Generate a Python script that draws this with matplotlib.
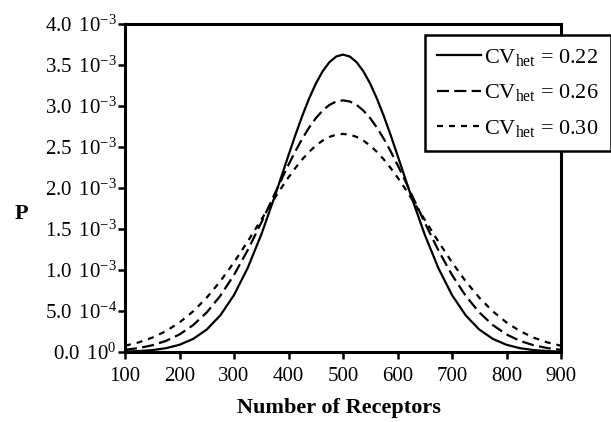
import matplotlib
matplotlib.use("Agg")
import matplotlib.pyplot as plt

plt.rcParams['font.family'] = ['Liberation Serif', 'DejaVu Serif']
plt.rcParams['mathtext.fontset'] = 'custom'
plt.rcParams['mathtext.rm'] = 'Liberation Serif'
plt.rcParams['mathtext.it'] = 'Liberation Serif:italic'
plt.rcParams['mathtext.bf'] = 'Liberation Serif:bold'

# Number of receptors (x) and probability readings for each curve
receptors = [100, 125, 150, 175, 200, 225, 250, 275, 300, 325, 350, 375,
             387.5, 400, 412.5, 425, 437.5, 450, 462.5, 475, 487.5, 500,
             512.5, 525, 537.5, 550, 562.5, 575, 587.5, 600, 612.5,
             625, 650, 675, 700, 725, 750, 775, 800, 825, 850, 875, 900]

half_022 = [4.9e-6, 1.09e-5, 2.30e-5, 4.61e-5, 8.80e-5, 1.594e-4, 2.741e-4, 4.477e-4,
            6.945e-4, 1.023e-3, 1.431e-3, 1.902e-3, 2.1498e-3, 2.399e-3, 2.6431e-3,
            2.875e-3, 3.0861e-3, 3.271e-3, 3.4219e-3, 3.534e-3, 3.6034e-3, 3.627e-3]
half_026 = [2.70e-5, 4.79e-5, 8.18e-5, 1.348e-4, 2.141e-4, 3.276e-4, 4.830e-4, 6.863e-4,
            9.397e-4, 1.240e-3, 1.577e-3, 1.933e-3, 2.1103e-3, 2.283e-3, 2.4468e-3,
            2.598e-3, 2.7339e-3, 2.850e-3, 2.9437e-3, 3.013e-3, 3.0547e-3, 3.069e-3]
half_030 = [7.60e-5, 1.169e-4, 1.748e-4, 2.544e-4, 3.599e-4, 4.954e-4, 6.632e-4, 8.634e-4,
            1.0934e-3, 1.3467e-3, 1.6131e-3, 1.8795e-3, 2.0076e-3, 2.1297e-3, 2.2435e-3,
            2.3471e-3, 2.4385e-3, 2.5159e-3, 2.5778e-3, 2.6229e-3, 2.6504e-3, 2.6596e-3]

# curves are symmetric about 500 receptors
p_022 = half_022 + half_022[-2::-1]
p_026 = half_026 + half_026[-2::-1]
p_030 = half_030 + half_030[-2::-1]

series_labels = [r"CV$_{\rm het}$ = 0.22", r"CV$_{\rm het}$ = 0.26", r"CV$_{\rm het}$ = 0.30"]

x_ticks = [100, 200, 300, 400, 500, 600, 700, 800, 900]
y_ticks = [0.0, 0.5e-3, 1.0e-3, 1.5e-3, 2.0e-3, 2.5e-3, 3.0e-3, 3.5e-3, 4.0e-3]
y_tick_labels = [r"0.0 $\,10^{0}$", r"5.0 $\,10^{-4}$", r"1.0 $\,10^{-3}$", r"1.5 $\,10^{-3}$",
                 r"2.0 $\,10^{-3}$", r"2.5 $\,10^{-3}$", r"3.0 $\,10^{-3}$", r"3.5 $\,10^{-3}$",
                 r"4.0 $\,10^{-3}$"]

fig = plt.figure(figsize=(6.11, 4.22), dpi=100)
ax = fig.add_axes([125/611, 1-352/422, 436/611, 328/422])

lw = 1.6
ax.plot(receptors, p_022, color='black', lw=lw, linestyle='-', label=series_labels[0])
ax.plot(receptors, p_026, color='black', lw=lw, linestyle=(0, (5.4, 2.4)), label=series_labels[1])
ax.plot(receptors, p_030, color='black', lw=lw, linestyle=(0, (2.7, 2.7)), label=series_labels[2])

ax.set_xlim(100, 900)
ax.set_ylim(0, 4.0e-3)
ax.set_xticks(x_ticks)
ax.set_xticklabels([str(t) for t in x_ticks])
ax.set_yticks(y_ticks)
ax.set_yticklabels(y_tick_labels)

for s in ax.spines.values():
    s.set_linewidth(2.2)
ax.tick_params(direction='out', length=5, width=1.8, labelsize=15)
ax.tick_params(axis='x', pad=6)
ax.tick_params(axis='y', pad=1)

ax.set_xlabel("Number of Receptors", fontsize=16, fontweight='bold')
ax.xaxis.set_label_coords(0.49, -0.14)
ax.set_ylabel("P", fontsize=16, fontweight='bold', rotation=0)
ax.yaxis.set_label_coords(-0.238, 0.39)

leg = ax.legend(loc='upper left', bbox_to_anchor=(0.688, 0.967), fontsize=16,
                frameon=True, fancybox=False, handlelength=1.95, handletextpad=0.15,
                borderpad=0.55, labelspacing=0.65, borderaxespad=0)
leg.get_frame().set_edgecolor('black')
leg.get_frame().set_linewidth(1.8)
leg.get_frame().set_alpha(1)
leg.set_zorder(5)

fig.savefig("out.png", dpi=100)
